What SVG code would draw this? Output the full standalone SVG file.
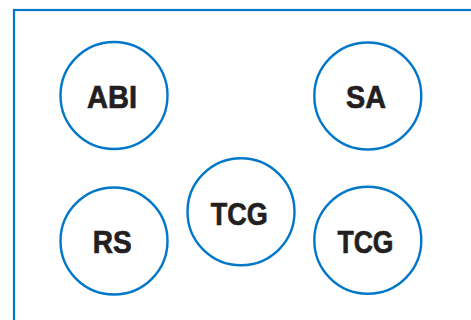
<svg xmlns="http://www.w3.org/2000/svg" width="471" height="320" viewBox="0 0 471 320">
<style>
.frame{fill:none;stroke:#0077C8;stroke-width:2.2}
.node circle{fill:#fff;stroke:#0077C8;stroke-width:2.4}
.node text{font-family:"Liberation Sans",Arial,sans-serif;font-weight:bold;font-size:32px;fill:#231F20;stroke:#231F20;stroke-width:0.7;text-anchor:middle}
</style>
<rect width="471" height="320" fill="#fff"/>
<rect class="frame" x="14" y="10" width="500" height="400"/>
<g id="connectors"></g>
<g id="abi" class="node"><circle cx="114" cy="95.5" r="53.5"/><text x="112" y="107.7" textLength="50" lengthAdjust="spacingAndGlyphs">ABI</text></g>
<g id="sa" class="node"><circle cx="367.8" cy="96" r="53.5"/><text x="366" y="107.7" textLength="40" lengthAdjust="spacingAndGlyphs">SA</text></g>
<g id="rs" class="node"><circle cx="114" cy="241" r="53.5"/><text x="112.3" y="252.7" textLength="39" lengthAdjust="spacingAndGlyphs">RS</text></g>
<g id="tcg1" class="node"><circle cx="241" cy="211.7" r="53.5"/><text x="239.3" y="225" textLength="57" lengthAdjust="spacingAndGlyphs">TCG</text></g>
<g id="tcg2" class="node"><circle cx="367.8" cy="240.2" r="53.5"/><text x="365.5" y="253.3" textLength="56" lengthAdjust="spacingAndGlyphs">TCG</text></g>
</svg>
